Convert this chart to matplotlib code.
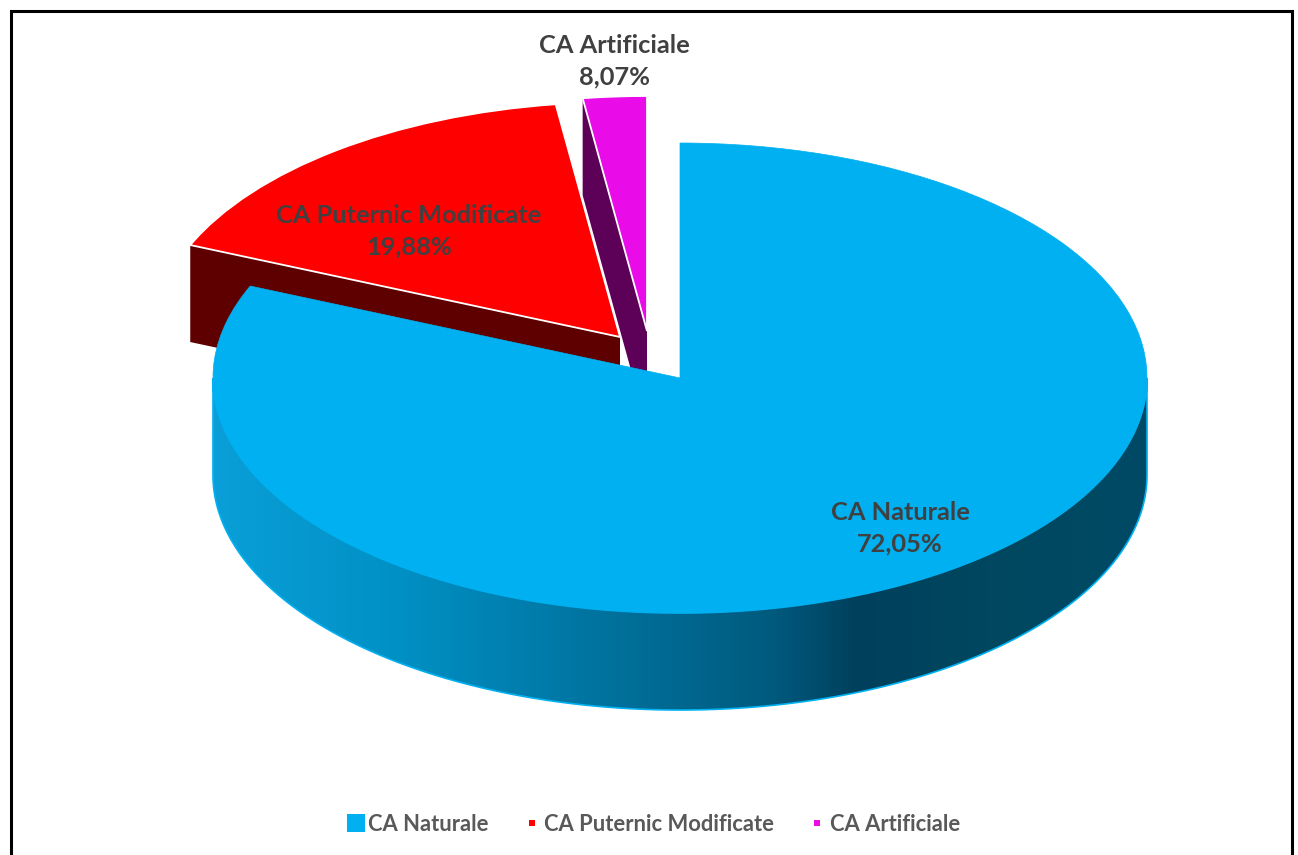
import matplotlib
matplotlib.use('Agg')
import matplotlib.pyplot as plt
import numpy as np
from matplotlib.colors import LinearSegmentedColormap
from matplotlib.lines import Line2D
from matplotlib.patches import Polygon, Rectangle

# labelled values
names = ['CA Naturale', 'CA Puternic Modificate', 'CA Artificiale']
values = [72.05, 19.88, 8.07]
# the slices in the picture are not drawn to the labelled share, so read these off it
drawn_shares = [81.4, 16.4, 2.2]
colors = ['#00B0F0', '#FF0000', '#E90CE9']
face_colors = [None, '#5E0000', '#5C0058']

W, H = 1298, 855
cx, cy = 680, 378      # pie centre, pixels
rx, ry = 467, 235      # ellipse radii, pixels
depth = 97 / ry        # wall height in y units

# slice offsets, in units of the radius
offsets = [(0, 0), (-60 / rx, 41 / ry), (-33 / rx, 47 / ry)]
label_pos = [(900, 528), (409, 231), (614, 61)]

plt.rcParams['font.family'] = ['Lato', 'DejaVu Sans']

fig = plt.figure(figsize=(W / 100, H / 100), dpi=100)
ax = fig.add_axes([0, 0, 1, 1])

wedges, _ = ax.pie(drawn_shares, colors=colors, startangle=90, counterclock=False,
                   wedgeprops={'edgecolor': 'white', 'linewidth': 1.3})
ax.set_aspect('auto')

for w, off in zip(wedges, offsets):
    w.set_center(off)
wedges[0].set_edgecolor(colors[0])
wedges[0].set_linewidth(0.5)
wedges[0].set_zorder(5)
wedges[1].set_zorder(4)
wedges[2].set_zorder(3)

# flat cut faces of the two pulled out slices, left edge of each wedge
for i in [1, 2]:
    w = wedges[i]
    a = np.deg2rad(w.theta2)
    x0, y0 = w.center
    x1, y1 = x0 + np.cos(a), y0 + np.sin(a)
    ax.add_patch(Polygon([(x1, y1), (x0, y0), (x0, y0 - depth), (x1, y1 - depth)],
                         facecolor=face_colors[i], edgecolor='none', zorder=2))

# outer wall of the big slice with the dark shading
t = np.linspace(0, -np.pi, 300)
xs = np.cos(t)
ys = np.sin(t)
wall = Polygon(np.column_stack([np.r_[xs, xs[::-1]], np.r_[ys, ys[::-1] - depth]]),
               facecolor='none', edgecolor=colors[0], linewidth=1.2, zorder=2.6)
ax.add_patch(wall)
shade = LinearSegmentedColormap.from_list('shade', [(0, '#0A9FD8'), (0.2, '#0090C4'),
                                                    (0.42, '#00729E'), (0.6, '#005A7E'),
                                                    (0.69, '#00405C'), (0.85, '#004860'),
                                                    (1, '#004A66')])
im = ax.imshow(np.linspace(0, 1, 400).reshape(1, -1), cmap=shade, aspect='auto',
               extent=(-1, 1, -1 - depth, 0), zorder=2.5)
im.set_clip_path(Polygon(wall.get_xy(), transform=ax.transData))

ax.set_xlim(-cx / rx, (W - cx) / rx)
ax.set_ylim(-(H - cy) / ry, cy / ry)

for name, val, (px, py) in zip(names, values, label_pos):
    txt = name + '\n' + f'{val:.2f}'.replace('.', ',') + '%'
    ax.text((px - cx) / rx, (cy - py) / ry, txt, ha='center', va='center', fontsize=18.3,
            fontweight='bold', color='#404040', linespacing=1.45, zorder=6)

sizes = [13.5, 5, 5]
handles = [Line2D([], [], linestyle='none', marker='s', markersize=s, color=c, label=n,
                  markeredgewidth=0)
           for s, c, n in zip(sizes, colors, names)]
ax.legend(handles=handles, ncol=3, loc='center', bbox_to_anchor=(654 / W, 1 - 824 / H),
          frameon=False, labelcolor='#595959',
          prop={'family': 'Lato', 'weight': 'bold', 'size': 15.8},
          handlelength=0.7, handletextpad=0.23, columnspacing=1.6, borderpad=0)

# outer black frame, runs past the bottom of the picture
fig.add_artist(Rectangle((10.5 / W, -0.02), 1281 / W, 1 - 11 / H + 0.02, transform=fig.transFigure,
                         facecolor='none', edgecolor='black', linewidth=2.2))

plt.savefig('out.png', dpi=100)
